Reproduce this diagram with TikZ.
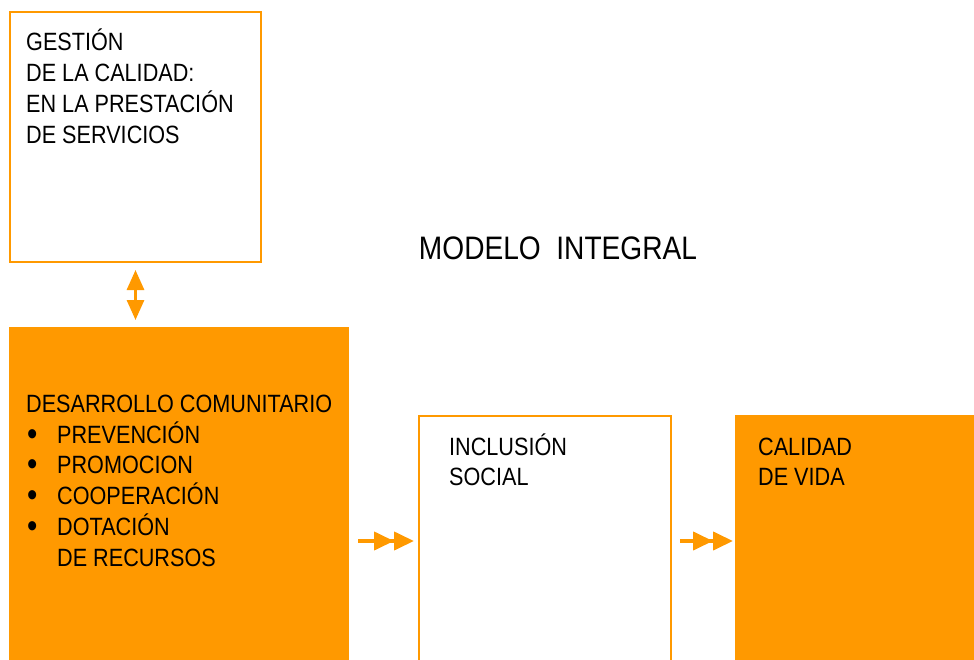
\documentclass[tikz,border=0pt]{standalone}
\usepackage{fontspec}
\setmainfont{Liberation Sans}[FakeStretch=0.865]
\usetikzlibrary{arrows.meta,calc}
\definecolor{orng}{RGB}{255,153,0}
\newcommand{\lines}[1]{\begin{tabular}[t]{@{}l@{}}#1\end{tabular}}
\newcommand{\bigbul}{\raisebox{-2pt}{\fontsize{34}{30.7}\selectfont •}}
\begin{document}
\begin{tikzpicture}[x=1pt,y=-1pt,
  outbox/.style={draw=orng,line width=2pt,fill=white,anchor=north west,inner sep=0pt},
  fillbox/.style={fill=orng,anchor=north west,inner sep=0pt},
  txt/.style={anchor=base west,inner sep=0pt,font=\fontsize{25}{30.7}\selectfont},
  dblarrow/.style={orng,line width=3pt,{Triangle[length=20pt,width=17pt]}-{Triangle[length=20pt,width=17pt]}},
  twoarrow/.style={orng,line width=4pt,-{Triangle[length=20pt,width=18pt,sep=0pt]Triangle[length=20pt,width=18pt]}}
]
\clip (0,0) rectangle (974,660);
\fill[white] (0,0) rectangle (974,660);
% boxes
\node[outbox,minimum width=251pt,minimum height=250pt] (b1) at (9,11) {};
\node[fillbox,minimum width=340pt,minimum height=353pt] (b2) at (9,327) {};
\node[outbox,minimum width=252pt,minimum height=280pt] (b3) at (418,415) {};
\node[fillbox,minimum width=240pt,minimum height=260pt] (b4) at (735,415) {};
% texts
\node[txt] (t1) at (26,51) {\lines{GESTIÓN\\DE LA CALIDAD:\\EN LA PRESTACIÓN\\DE SERVICIOS}};
\node[anchor=base,inner sep=0pt,font=\fontsize{32.5}{38}\selectfont] (title) at (558,260) {MODELO\ \ INTEGRAL};
\node[txt] (t2) at (26,412) {DESARROLLO COMUNITARIO};
\node[txt] (bul) at (27,443) {\lines{\bigbul\\\bigbul\\\bigbul\\\bigbul}};
\node[txt] (t2b) at (57,443) {\lines{PREVENCIÓN\\PROMOCION\\COOPERACIÓN\\DOTACIÓN\\DE RECURSOS}};
\node[txt] (t3) at (449,455) {\lines{INCLUSIÓN\\SOCIAL}};
\node[txt] (t4) at (758,455) {\lines{CALIDAD\\DE VIDA}};
% connectors
\draw[dblarrow,shorten <=7pt,shorten >=7pt] (b1.south) -- (b1.south |- b2.north);
\coordinate (row) at (0,541);
\draw[twoarrow,shorten <=9pt,shorten >=4pt] (b2.east |- row) -- (b3.west |- row);
\draw[twoarrow,shorten <=8pt,shorten >=2pt] (b3.east |- row) -- (b4.west |- row);
\end{tikzpicture}
\end{document}
